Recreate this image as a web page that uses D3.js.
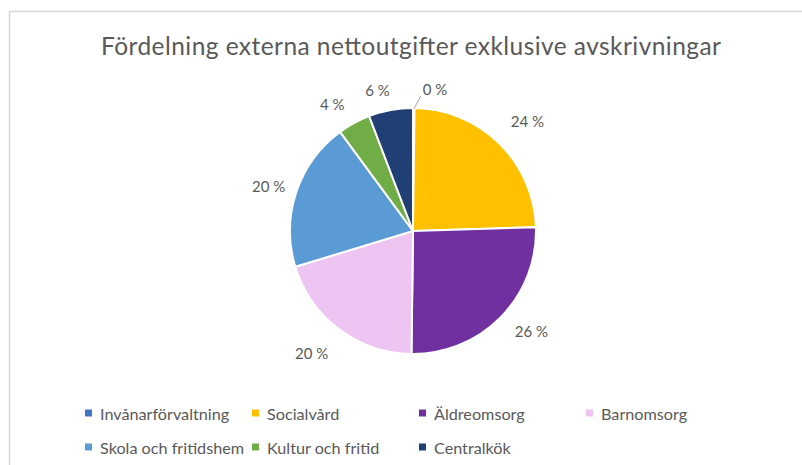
<!DOCTYPE html>
<html>
<head>
<meta charset="utf-8">
<script src="https://cdn.jsdelivr.net/npm/d3@7"></script>
<style>
  html, body { margin: 0; padding: 0; background: #fff; }
  svg { display: block; }
</style>
</head>
<body>
<svg id="chart" width="802" height="465"></svg>
<script>
// data
const categories = ["Invånarförvaltning", "Socialvård", "Äldreomsorg", "Barnomsorg",
  "Skola och fritidshem", "Kultur och fritid", "Centralkök"];
const values = [0.2, 24.3, 25.7, 20.1, 19.6, 4.3, 5.8];
const labels = ["0 %", "24 %", "26 %", "20 %", "20 %", "4 %", "6 %"];
const colors = ["#4472C4", "#FFC000", "#7030A0", "#EDC4F2", "#5B9BD5", "#70AD47", "#203F74"];

const svg = d3.select("#chart");
const font = "Lato, 'Open Sans', sans-serif";

// chart frame
svg.append("rect")
  .attr("x", 9.5).attr("y", 11.5)
  .attr("width", 820).attr("height", 480)
  .attr("fill", "none")
  .attr("stroke", "#d9d9d9")
  .attr("stroke-width", 1.5);

svg.append("text")
  .attr("x", 411).attr("y", 55)
  .attr("text-anchor", "middle")
  .attr("font-family", font)
  .attr("font-size", 24.5)
  .attr("textLength", 620)
  .attr("lengthAdjust", "spacing")
  .attr("fill", "#595959")
  .text("Fördelning externa nettoutgifter exklusive avskrivningar");

const cx = 413, cy = 231, r = 123;
const g = svg.append("g").attr("transform", `translate(${cx},${cy})`);

const pie = d3.pie().sort(null).value(d => d);
const arcs = pie(values);
const arc = d3.arc().innerRadius(0).outerRadius(r);
const labelArc = d3.arc().innerRadius(152).outerRadius(152);

g.selectAll("path.slice")
  .data(arcs)
  .enter().append("path")
  .attr("class", "slice")
  .attr("d", arc)
  .attr("fill", (d, i) => colors[i])
  .attr("stroke", "#fff")
  .attr("stroke-width", 2);

// small nudges like the original's best-fit placement
const nudge = [[0, 0], [8, -2], [10, -6], [-10, 0], [0, 3], [-8, 6], [-8, 8]];

// leader line for the tiny slice
const a0 = (arcs[0].startAngle + arcs[0].endAngle) / 2;
const p0 = [r * Math.sin(a0), -r * Math.cos(a0)];
const p1 = [p0[0] + 7, p0[1] - 12];
g.append("path")
  .attr("d", d3.line()([[p0[0], p0[1] + 1], p1]))
  .attr("stroke", "#a6a6a6")
  .attr("stroke-width", 1)
  .attr("fill", "none");

g.selectAll("text.lbl")
  .data(arcs)
  .enter().append("text")
  .attr("class", "lbl")
  .attr("transform", (d, i) => {
    if (i === 0) return `translate(${p1[0] + 2},${p1[1] - 7})`;
    const [x, y] = labelArc.centroid(d);
    return `translate(${x + nudge[i][0]},${y + nudge[i][1]})`;
  })
  .attr("text-anchor", (d, i) => i === 0 ? "start" : "middle")
  .attr("dominant-baseline", "central")
  .attr("font-family", font)
  .attr("font-size", 15)
  .attr("fill", "#595959")
  .text((d, i) => labels[i]);

// legend
const legX = d3.scaleBand().domain([0, 1, 2, 3]).range([85, 753]);
const legY = d3.scaleBand().domain([0, 1]).range([396, 464]);
const leg = svg.selectAll("g.leg")
  .data(categories)
  .enter().append("g")
  .attr("class", "leg")
  .attr("transform", (d, i) => `translate(${legX(i % 4)},${legY(Math.floor(i / 4)) + legY.bandwidth() / 2})`);
leg.append("rect")
  .attr("x", 0).attr("y", -3.5)
  .attr("width", 7).attr("height", 7)
  .attr("fill", (d, i) => colors[i]);
leg.append("text")
  .attr("x", 15).attr("y", 0)
  .attr("dominant-baseline", "central")
  .attr("font-family", font)
  .attr("font-size", 16.2)
  .attr("fill", "#595959")
  .text(d => d);
</script>
</body>
</html>
